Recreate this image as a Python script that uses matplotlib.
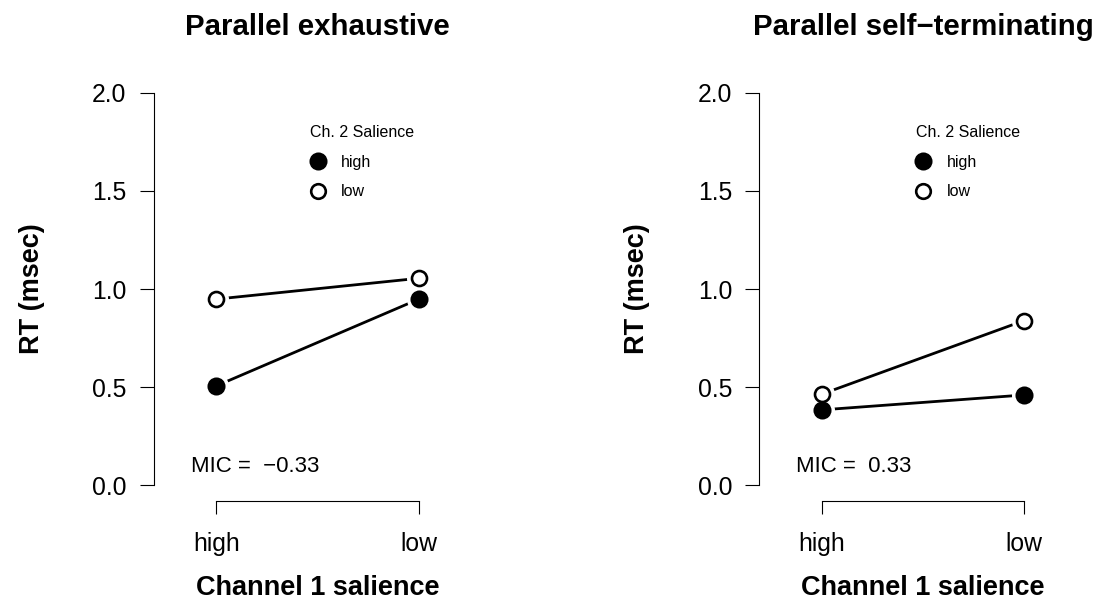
import matplotlib
matplotlib.use('Agg')
import matplotlib.pyplot as plt
from matplotlib.lines import Line2D

plt.rcParams['font.family'] = ['Liberation Sans', 'DejaVu Sans']

# 数据
ch1_levels = ['high', 'low']
ch1_pos = [1, 2]
panel_titles = ['Parallel exhaustive', 'Parallel self\u2212terminating']
exh_ch2_high = [0.507, 0.949]
exh_ch2_low = [0.949, 1.055]
st_ch2_high = [0.385, 0.461]
st_ch2_low = [0.465, 0.840]
mic_labels = ['MIC =  \u22120.33', 'MIC =  0.33']
y_ticks = [0.0, 0.5, 1.0, 1.5, 2.0]
y_tick_labels = ['0.0', '0.5', '1.0', '1.5', '2.0']
legend_title = 'Ch. 2 Salience'
legend_labels = ['high', 'low']

W, H = 1096, 610
fig = plt.figure(figsize=(W / 100, H / 100), dpi=100)


def fx(px):
    return px / W


def fy(py):
    return 1 - py / H


panels = [(exh_ch2_high, exh_ch2_low), (st_ch2_high, st_ch2_low)]
left_px = [153.5, 759.0]
ax_w, top_px, bot_px = 328.0, 77.0, 501.2

for i, (high_vals, low_vals) in enumerate(panels):
    x0 = left_px[i]
    ax = fig.add_axes([fx(x0), fy(bot_px), ax_w / W, (bot_px - top_px) / H])
    ax.set_xlim(0.69, 2.31)
    ax.set_ylim(-0.08, 2.08)

    # 线、白色间隔、点（模仿 R 的 type="b"）
    for vals in [high_vals, low_vals]:
        ax.plot(ch1_pos, vals, color='black', lw=2.0, zorder=1,
                solid_capstyle='butt')
        ax.plot(ch1_pos, vals, ls='none', marker='o', ms=17,
                mfc='white', mec='white', zorder=2)
    ax.plot(ch1_pos, high_vals, ls='none', marker='o', ms=11.5,
            mfc='black', mec='black', mew=1.5, zorder=3)
    ax.plot(ch1_pos, low_vals, ls='none', marker='o', ms=10.8,
            mfc='white', mec='black', mew=1.9, zorder=4)

    for s in ['top', 'right']:
        ax.spines[s].set_visible(False)
    ax.spines['left'].set_bounds(0, 2)
    ax.spines['bottom'].set_bounds(1, 2)
    for s in ['left', 'bottom']:
        ax.spines[s].set_linewidth(0.8)

    ax.set_yticks(y_ticks)
    ax.set_yticklabels(y_tick_labels)
    ax.set_xticks(ch1_pos)
    ax.set_xticklabels(ch1_levels)
    ax.tick_params(axis='y', length=10, width=0.8, pad=9.4, labelsize=17.8)
    ax.tick_params(axis='x', length=9.4, width=0.8, pad=13, labelsize=17.8)

    ax.text(0.873, 0.071, mic_labels[i], ha='left', va='baseline',
            fontsize=16)

    handles = [Line2D([], [], ls='none', marker='o', ms=11.5, mfc='black',
                      mec='black', mew=1.5),
               Line2D([], [], ls='none', marker='o', ms=10.5, mfc='white',
                      mec='black', mew=1.9)]
    ax.legend(handles, legend_labels, title=legend_title, frameon=False,
              loc='upper left', bbox_to_anchor=(fx(x0 + 156.5), fy(125)),
              bbox_transform=fig.transFigure, borderpad=0, borderaxespad=0,
              fontsize=11.5, title_fontsize=11.5, alignment='left',
              handlelength=1.0, handletextpad=0.95, labelspacing=0.92)

    cx = x0 + ax_w / 2
    fig.text(fx(cx), fy(35), panel_titles[i], ha='center', va='baseline',
             fontsize=21.2, fontweight='bold')
    fig.text(fx(cx), fy(595), 'Channel 1 salience', ha='center',
             va='baseline', fontsize=19.5, fontweight='bold')
    fig.text(fx(x0 - 121.5), fy(289), 'RT (msec)', ha='center', va='center',
             rotation=90, fontsize=19.5, fontweight='bold')

fig.savefig('out.png', dpi=100)
